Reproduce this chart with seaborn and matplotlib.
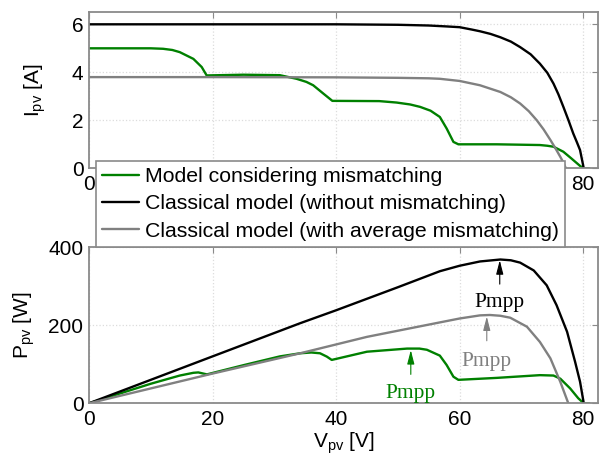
import matplotlib
matplotlib.use("Agg")
import matplotlib.pyplot as plt
import seaborn as sns
import pandas as pd

# ---------------- data ----------------
series_names = ["Model considering mismatching",
                "Classical model (without mismatching)",
                "Classical model (with average mismatching)"]

# I-V curves
v_black_i = [0, 20, 40, 50, 55, 58, 60, 62, 63.3, 65, 66.6, 68.3, 69.8, 71.5, 73, 74.2, 75.2, 76, 76.8, 77.6, 78.4, 79, 79.5, 80.1]
i_black = [6.0, 6.0, 6.0, 5.98, 5.95, 5.91, 5.88, 5.78, 5.71, 5.6, 5.46, 5.28, 5.05, 4.75, 4.36, 3.98, 3.53, 3.08, 2.56, 2.02, 1.45, 1.08, 0.76, 0]

v_gray_i = [0, 20, 40, 50, 55, 56.8, 60, 63.3, 66.6, 68.3, 69.8, 71.2, 72.5, 73.6, 74.7, 75.5, 76.3, 76.8, 77.2]
i_gray = [3.8, 3.8, 3.79, 3.77, 3.75, 3.73, 3.64, 3.46, 3.18, 2.96, 2.7, 2.38, 2.0, 1.62, 1.18, 0.84, 0.48, 0.24, 0]

v_green_i = [0, 10, 12, 13.5, 14.7, 16.9, 18.25, 19.05, 25, 30.9, 33.6, 35.2, 36.3, 37.96, 39.4, 47, 49.8, 52, 53.6, 55.3, 56.8,
             57.9, 59.0, 59.8, 66, 73, 74.2, 75.2, 76.8, 78.1, 79.5, 80.1, 81]
i_green = [5.0, 5.0, 4.98, 4.93, 4.84, 4.56, 4.22, 3.87, 3.9, 3.88, 3.73, 3.6, 3.46, 3.11, 2.81, 2.8, 2.74, 2.66, 2.56, 2.4, 2.14,
           1.66, 1.1, 1.0, 1.0, 0.97, 0.94, 0.9, 0.69, 0.41, 0.1, 0, 0]

# P-V curves
v_black_p = [0, 20, 34.2, 40, 50, 56.8, 60, 63.3, 66.6, 68.3, 69.8, 72, 74.1, 75.7, 77.4, 78.7, 79.5, 80.1]
p_black = [0, 120, 205, 238, 297, 338, 352, 363, 368, 366, 360, 340, 302, 251, 183, 106, 55, 0]

v_gray_p = [0, 20, 34.2, 45, 56.8, 60, 63.3, 64.9, 66.6, 68.2, 70.9, 73, 74.7, 76.3, 77.6]
p_gray = [0, 76, 128, 170, 207, 217, 225, 226, 224, 219, 196, 157, 115, 55, 0]

v_green_p = [0, 5, 10, 14.7, 16.9, 17.7, 18.8, 19.1, 25, 30.9, 34.2, 36, 37.4, 38.5, 39.3, 45, 51.5, 53.5, 54.7,
             56.8, 57.9, 59, 59.8, 66, 73, 75.2, 76.3, 77.9, 79.2, 80.1, 81]
p_green = [0, 25, 50, 71, 78, 79, 75, 74, 97.5, 120, 128, 130, 128, 119.5, 111, 132, 140, 140, 137,
           122, 98, 68, 60, 65, 72, 71, 63, 38, 13, 0, 0]

x_ticks = [0, 20, 40, 60, 80]
x_tick_labels = ['0', '20', '40', '60', '80']
i_ticks = [0, 2, 4, 6]
p_ticks = [0, 200, 400]

# ---------------- style ----------------
sns.set_theme(style="whitegrid")
plt.rcParams['font.family'] = ['Liberation Sans', 'DejaVu Sans']
plt.rcParams['mathtext.fontset'] = 'custom'
plt.rcParams['mathtext.rm'] = 'Liberation Sans'
plt.rcParams['mathtext.it'] = 'Liberation Sans'
for key in ('text.color', 'axes.labelcolor', 'xtick.labelcolor', 'ytick.labelcolor'):
    plt.rcParams[key] = 'black'

GREEN = '#008000'
BLACK = '#000000'
GRAY = '#808080'
SPINE = '#8a8a8a'
LW = 1.7
FS = 15

fig = plt.figure(figsize=(6.02, 4.61), dpi=100)
ax1 = fig.add_axes([0.1478, 0.6349, 0.8455, 0.3384])
ax2 = fig.add_axes([0.1478, 0.1252, 0.8455, 0.3390])

def draw(ax, x, y, color, label):
    df = pd.DataFrame({"x": x, "y": y})
    sns.lineplot(data=df, x="x", y="y", ax=ax, color=color, linewidth=LW,
                 estimator=None, sort=False, label=label, legend=False)

draw(ax1, v_green_i, i_green, GREEN, series_names[0])
draw(ax1, v_black_i, i_black, BLACK, series_names[1])
draw(ax1, v_gray_i, i_gray, GRAY, series_names[2])

draw(ax2, v_green_p, p_green, GREEN, series_names[0])
draw(ax2, v_black_p, p_black, BLACK, series_names[1])
draw(ax2, v_gray_p, p_gray, GRAY, series_names[2])

for ax, yt, ylim in [(ax1, i_ticks, (0, 6.5)), (ax2, p_ticks, (0, 400))]:
    ax.set_xlim(0, 82.4)
    ax.set_ylim(*ylim)
    ax.set_xticks(x_ticks)
    ax.set_yticks(yt)
    ax.grid(True, color='#dcdcdc', linestyle=':', linewidth=0.9)
    for s in ax.spines.values():
        s.set_visible(True)
        s.set_color(SPINE)
        s.set_linewidth(1.3)
    ax.tick_params(direction='in', length=4, width=0.8, color=SPINE,
                   labelcolor='black', top=True, right=True, labelsize=FS, pad=5)
    ax.tick_params(axis='y', pad=4)
    ax.set_facecolor('white')

# top panel: the inner x tick labels are covered by the legend in the reference
ax1.set_xticklabels([lab if lab in ('0', '80') else '' for lab in x_tick_labels])
ax2.set_xticklabels(x_tick_labels)

ax1.set_xlabel('')
ax1.set_ylabel(r'I$_{\mathrm{pv}}$ [A]', fontsize=FS, labelpad=17, color='black')
ax2.set_ylabel(r'P$_{\mathrm{pv}}$ [W]', fontsize=FS, labelpad=8, color='black')
ax2.set_xlabel(r'V$_{\mathrm{pv}}$ [V]', fontsize=FS, labelpad=1, color='black')

# Pmpp annotations
serif = ['Liberation Serif', 'DejaVu Serif']
ann = [(66.5, 366, 305, 257, BLACK), (64.4, 222, 160, 108, GRAY), (52.1, 136, 74, 25, GREEN)]
for vx, head, tail, ty, col in ann:
    ax2.annotate('', xy=(vx, head), xytext=(vx, tail),
                 arrowprops=dict(arrowstyle='-|>,head_length=0.7,head_width=0.18',
                                 color=col, lw=0.8, shrinkA=0, shrinkB=0))
    ax2.text(vx, ty, 'Pmpp', color=col, fontsize=FS + 0.5, family=serif,
             ha='center', va='center')

handles, labels = ax1.get_legend_handles_labels()
leg = fig.legend(handles, labels, loc='upper left',
                 bbox_to_anchor=(96 / 602, 1 - 161 / 461), bbox_transform=fig.transFigure,
                 frameon=True, fancybox=False, framealpha=1, edgecolor=SPINE,
                 fontsize=FS + 0.3, borderaxespad=0, borderpad=0.3,
                 handlelength=1.7, handletextpad=0.3, labelspacing=0.38)
leg.get_frame().set_linewidth(1.2)
for h in leg.legend_handles:
    h.set_linewidth(1.7)
for t in leg.get_texts():
    t.set_color('black')

fig.savefig('out.png', dpi=100, facecolor='white')
